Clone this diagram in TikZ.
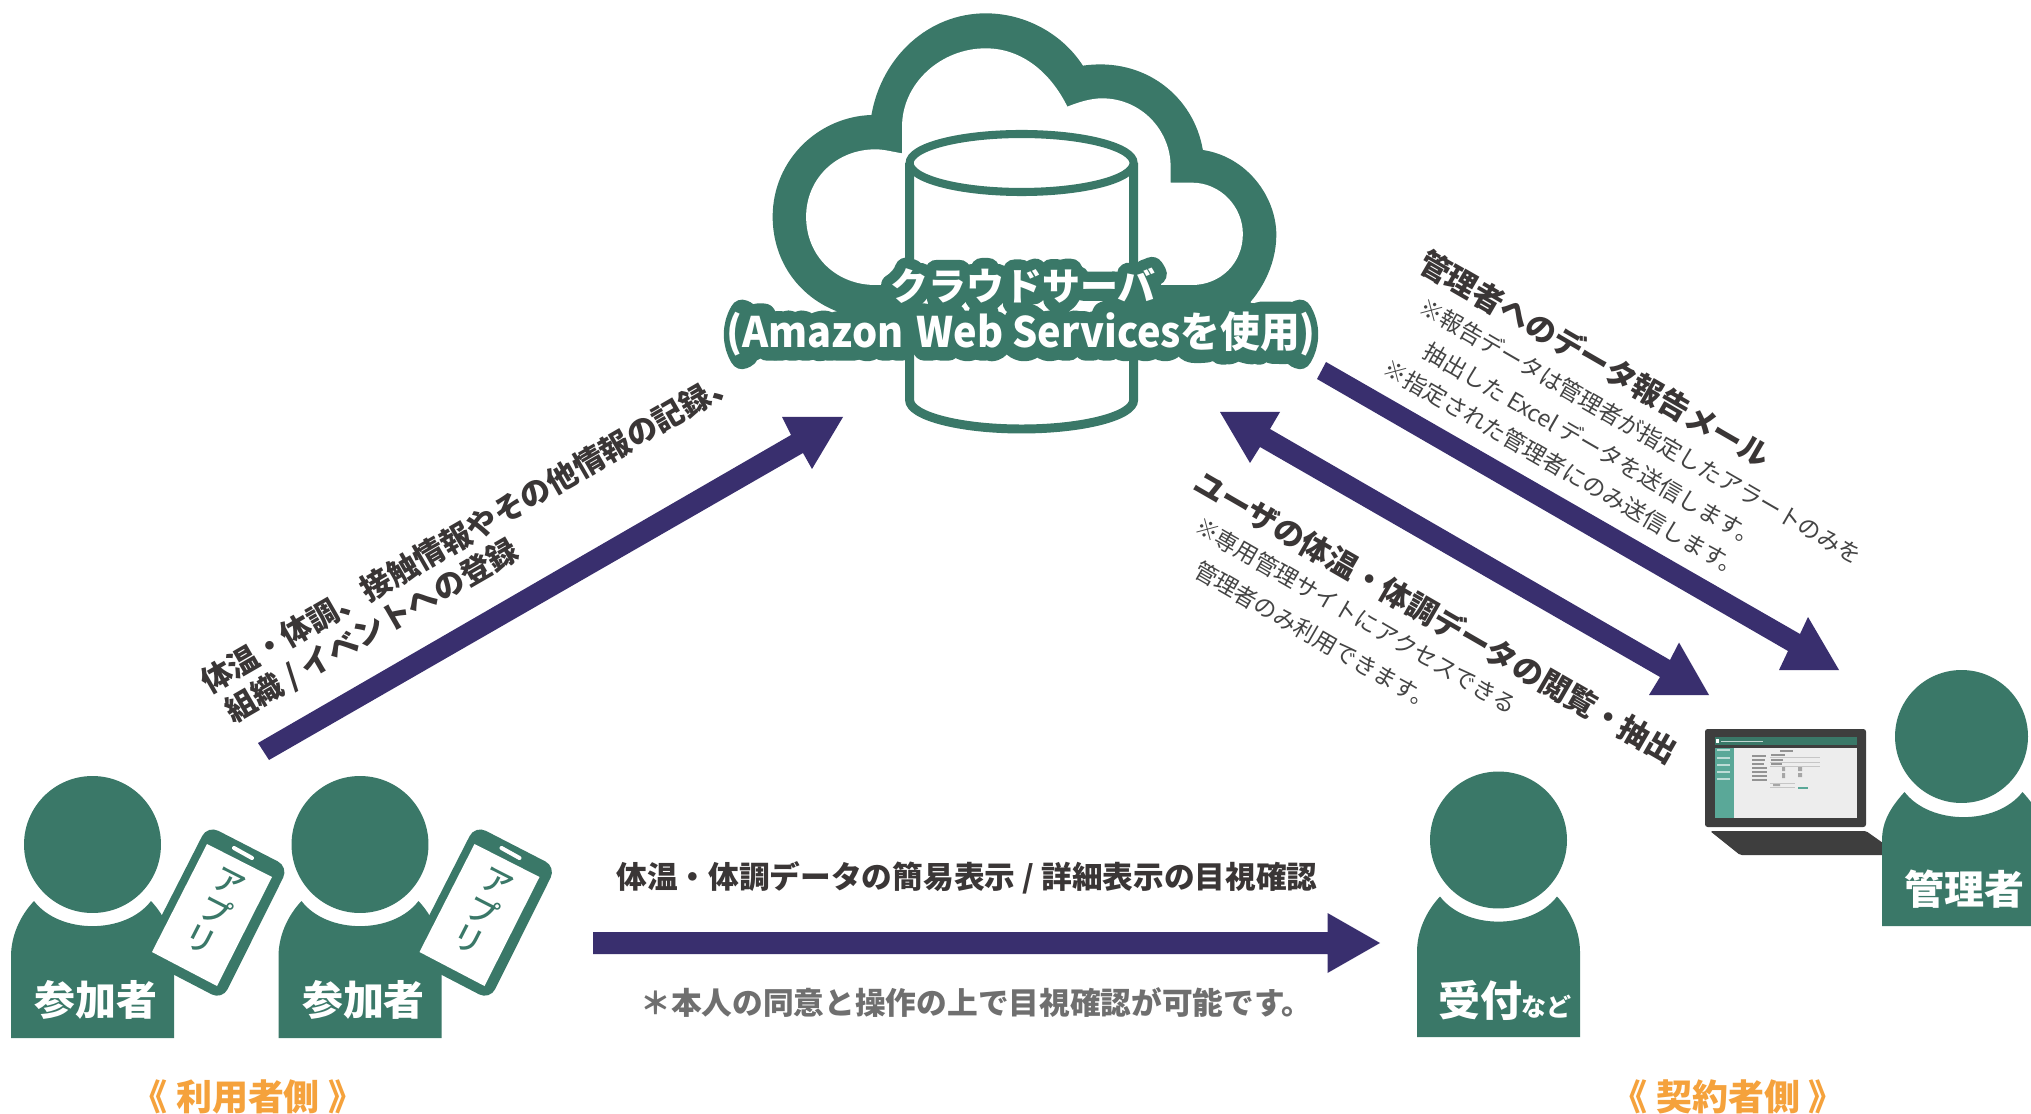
\documentclass[tikz,border=0pt]{standalone}
\usepackage{graphicx}
\usepackage{fontspec}
\setmainfont{Noto Sans CJK JP}
\newfontfamily\halofont[FakeBold=62]{Noto Sans CJK JP Bold}
\newfontfamily\medfont{Noto Sans CJK JP Medium}
\definecolor{grn}{HTML}{3A7868}
\definecolor{pur}{HTML}{392F6E}
\definecolor{ink}{HTML}{3A3636}
\definecolor{mid}{HTML}{444444}
\definecolor{gry}{HTML}{6F6F6F}
\definecolor{org}{HTML}{F5A23C}
\definecolor{lap}{HTML}{3E3E3E}
\definecolor{teal}{HTML}{5AA898}
\newcommand\fpx[1]{\fontsize{\fpeval{#1*0.569}}{\fpeval{#1*0.7}}\selectfont}
\tikzset{
  arrowfill/.style={fill=pur,draw=none},
  lab/.style={inner sep=0pt,text=ink,font=\fpx{30.7}\bfseries},
  note/.style={inner sep=0pt,text=mid,font=\fpx{23}},
  whitelab/.style={inner sep=0pt,text=white,font=\fpx{41}\bfseries},
  side/.style={inner sep=0pt,text=org,font=\fpx{36}\bfseries},
  halo/.style={inner sep=0pt,text=grn,font=\halofont\fpx{#1}},
  top/.style={inner sep=0pt,text=white,font=\fpx{#1}\bfseries},
}
% person: origin at the head centre, #1 = bottom of the body below it
\newcommand\personshape[1]{%
  \fill[grn] (0,0) circle[radius=1.37cm];
  \fill[grn] (-58.5,56.5) .. controls (-33,90) and (33,90) .. (58.5,56.5)
     .. controls (73,72) and (81.5,92) .. (81.5,112) -- (81.5,#1) -- (-81.5,#1)
     -- (-81.5,112) .. controls (-81.5,92) and (-73,72) .. (-58.5,56.5) -- cycle;
}
\newcommand\participant[2]{%
  \begin{scope}[shift={(#2,844.5)}]
    \personshape{193.5}
    \begin{scope}[shift={(-92.5,-844.5)}]
      \fill[white] (174.5,966) rectangle (190,1040);
      \fill[grn,rounded corners=2.4mm] (207.6,825.3) -- (288.5,866.9) -- (222.3,999.9) -- (140.4,957.3) -- cycle;
      \fill[white] (207,844) -- (272,877) -- (217,986) -- (152,952) -- cycle;
      \draw[white,line width=2.3pt,line cap=round] (234,848) -- (252,858);
      \node[inner sep=0pt,text=grn,font=\medfont\fontsize{17.6}{18.2}\selectfont,align=center,rotate=-27] (#1app) at (215,912) {ア\\プ\\リ};
      \node[whitelab] (#1lab) at (96,1000) {参加者};
    \end{scope}
  \end{scope}
}
\begin{document}
\begin{tikzpicture}[x=0.02cm,y=-0.02cm]
\useasboundingbox (0,0) rectangle (2031,1114);
\fill[white] (0,0) rectangle (2031,1114);

% cloud
\begin{scope}[shift={(700,0)},xscale=0.40816,yscale=0.33333]
  \fill[grn] (420,345) .. controls (445,170) and (560,40) .. (700,40)
    .. controls (800,40) and (890,105) .. (938,197)
    .. controls (1090,170) and (1210,290) .. (1232,450)
    .. controls (1340,470) and (1412,590) .. (1412,705)
    .. controls (1412,800) and (1370,890) .. (1320,940) -- (380,950)
    .. controls (260,920) and (178,800) .. (178,650)
    .. controls (178,480) and (290,350) .. (420,345) -- cycle;
  \fill[white] (495,460) -- (495,380) .. controls (495,250) and (590,145) .. (700,145)
    .. controls (790,145) and (860,220) .. (900,320)
    .. controls (930,305) and (960,295) .. (985,295)
    .. controls (1080,295) and (1153,390) .. (1153,500) -- (1153,548) -- (1205,548)
    .. controls (1275,548) and (1330,620) .. (1330,702)
    .. controls (1330,790) and (1275,855) .. (1205,855) -- (430,855)
    .. controls (335,855) and (260,770) .. (260,650)
    .. controls (260,535) and (335,448) .. (430,448)
    .. controls (450,448) and (470,455) .. (495,460) -- cycle;
\end{scope}
% cylinder
\draw[grn,line width=5.1pt,fill=white]
  (909.6,163) -- (909.6,400) .. controls (909.6,416) and (960,429) .. (1021.6,429)
  .. controls (1083,429) and (1133.6,416) .. (1133.6,400) -- (1133.6,163);
\draw[grn,line width=4.6pt,fill=white] (1021.6,163) ellipse[x radius=2.24cm,y radius=0.58cm];

% cloud title with halo
\coordinate (t1) at (1023,286);
\coordinate (t2) at (1021,334);
\begin{scope}[line join=round,miter limit=1]
\node[halo=38] (h1a) at (t1) {クラウドサーバ};
\node[halo=42] (h2a) at (t2) {\scalebox{0.945}[1]{(Amazon\,\,Web Servicesを使用)}};
\end{scope}
\node[top=38] (title1) at (t1) {クラウドサーバ};
\node[top=42] (title2) at (t2) {\scalebox{0.945}[1]{(Amazon\,\,Web Servicesを使用)}};

% block arrows
\fill[arrowfill] (258,743) -- (791,435) -- (782,417) -- (843,417) -- (812,469) -- (803,453) -- (269,760) -- cycle;
\fill[arrowfill] (1326,362) -- (1800,634) -- (1808,617) -- (1839,670) -- (1779,670) -- (1788,651) -- (1317,379) -- cycle;
\fill[arrowfill] (1220,412) -- (1280,412) -- (1270,429) -- (1670,660) -- (1679,642.5) -- (1709,695) -- (1649,695) -- (1660,677) -- (1260,447) -- (1250,463) -- cycle;
\fill[arrowfill] (593,932) -- (1327.5,932) -- (1327.5,913) -- (1380,943) -- (1327.5,973) -- (1327.5,954) -- (593,954) -- cycle;

% rotated labels, left
\node[lab,rotate=30] (l1) at (469,531) {体温・体調、接触情報やその他情報の記録、};
\node[lab,rotate=30] (l2) at (372,631) {組織 / イベントへの登録};
% rotated labels, right
\node[lab,rotate=-30] (r1) at (1595,359) {管理者へのデータ報告メール};
\node[note,rotate=-30] (r2) at (1641,431) {※報告データは管理者が指定したアラートのみを};
\node[note,rotate=-30] (r3) at (1592,445) {抽出した Excel データを送信します。};
\node[note,rotate=-30] (r4) at (1564,469) {※指定された管理者にのみ送信します。};
\node[lab,rotate=-30] (u1) at (1436,617) {ユーザの体温・体調データの閲覧・抽出};
\node[note,rotate=-30] (u2) at (1356,616) {※専用管理サイトにアクセスできる};
\node[note,rotate=-30] (u3) at (1315,636) {管理者のみ利用できます。};

% horizontal labels
\node[lab] (h1) at (967,878) {体温・体調データの簡易表示 / 詳細表示の目視確認};
\node[lab,text=gry] (h2) at (976.5,1003) {＊本人の同意と操作の上で目視確認が可能です。};

% participants
\participant{pa}{92.5}
\participant{pb}{360}

% reception
\begin{scope}[shift={(1498.5,840)}]
  \personshape{197}
\end{scope}
\node[whitelab,font=\fpx{42}\bfseries] (rc) at (1480,1000) {受付};
\node[inner sep=0pt,text=white,font=\fpx{25}\bfseries] (rc2) at (1546,1007) {など};

% laptop
\fill[lap,rounded corners=1.5pt] (1705,729) rectangle (1866,827);
\fill[lap,rounded corners=1pt] (1710,831) -- (1866,831) -- (1890,848) -- (1890,855) -- (1740,855) -- cycle;
\fill[gray!14] (1715,737) rectangle (1857,818);
\fill[teal] (1715,748) rectangle (1734,818);
\fill[grn] (1715,737) rectangle (1857,745);
\fill[lap] (1715,745) rectangle (1857,748);
\fill[white] (1716,739) rectangle (1719,743);
\draw[white!70!grn,line width=0.4pt] (1721,741) -- (1763,741);
\draw[white!60!teal,line width=0.6pt] (1717,750) -- (1730,750) (1717,758) -- (1730,758) (1717,765) -- (1730,765) (1717,772) -- (1730,772) (1717,779) -- (1730,779);
\draw[gray!85,line width=0.6pt] (1780,751) -- (1793,751)
  (1752,756) -- (1766,756) (1752,760) -- (1765,760) (1752,764) -- (1764,764) (1752,768) -- (1767,768)
  (1752,772) -- (1767,772) (1752,776) -- (1767,776) (1752,780) -- (1767,780)
  (1771,755) -- (1785,755) (1771,760) -- (1783,760) (1771,764) -- (1782,764);
\draw[gray!45,line width=0.3pt] (1770,757) -- (1820,757) (1770,762) -- (1820,762) (1770,766) -- (1820,766) (1770,783) -- (1795,783) (1770,787) -- (1795,787);
\fill[gray!70] (1782,767) rectangle (1785,771) (1782,773) rectangle (1785,777) (1798,767) rectangle (1802,771) (1798,773) rectangle (1802,777) (1782,777) rectangle (1785,778) (1773,784) rectangle (1780,786);
\fill[teal] (1798,787) rectangle (1808,789);

% administrator
\begin{scope}
  \clip (0,0) rectangle (2031,1114);
  \fill[grn] (1961.5,736.5) circle[radius=1.33cm];
  \begin{scope}[shift={(1963.5,736.5)}]
    \fill[grn] (-59,55.5) .. controls (-33,89) and (33,89) .. (59,55.5)
     .. controls (73,71) and (81.5,85) .. (81.5,104) -- (81.5,189.5) -- (-81.5,189.5)
     -- (-81.5,104) .. controls (-81.5,85) and (-73,71) .. (-59,55.5) -- cycle;
  \end{scope}
\end{scope}
\node[whitelab,font=\fpx{40}\bfseries] (ad) at (1964,889) {管理者};

% sides
\node[side] (s1) at (248,1097) {《 利用者側 》};
\node[side] (s2) at (1728,1097) {《 契約者側 》};
\end{tikzpicture}
\end{document}
